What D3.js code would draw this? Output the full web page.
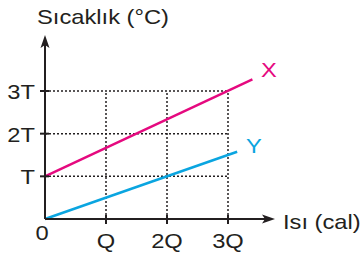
<!DOCTYPE html>
<html><head><meta charset="utf-8">
<script src="https://cdn.jsdelivr.net/npm/d3@7"></script>
<style>body{margin:0;background:#fff}svg{display:block}text{font-family:"Liberation Sans",Arial,sans-serif;fill:#231f20}</style>
</head><body>
<script>
const xTickLabels = ["Q", "2Q", "3Q"];
const xTickValues = [1, 2, 3];
const yTickLabels = ["T", "2T", "3T"];
const yTickValues = [1, 2, 3];
const seriesNames = ["X", "Y"];
const seriesX = [[0, 1], [3.4, 3.27]];
const seriesY = [[0, 0], [3.15, 1.575]];
const colors = ["#e5097f", "#0aa5e0"];

const W = 362, H = 257;
const svg = d3.select("body").append("svg").attr("width", W).attr("height", H);
const x = d3.scaleLinear().domain([0, 3]).range([45, 228]);
const y = d3.scaleLinear().domain([0, 3]).range([219, 91]);
const ink = "#231f20";
const FS = 21, SX = 1.13;

function label(px, py, txt, anchor, color) {
  const t = svg.append("text").attr("transform", `translate(${px},${py}) scale(${SX},1)`)
    .attr("font-size", FS).attr("text-anchor", anchor || "start").text(txt);
  if (color) t.style("fill", color);
  return t;
}

// dotted grid
yTickValues.forEach(v => svg.append("line").attr("x1", x(0)).attr("x2", x(3)).attr("y1", y(v)).attr("y2", y(v))
  .attr("stroke", ink).attr("stroke-width", 1.5).attr("stroke-dasharray", "2,2"));
xTickValues.forEach(v => svg.append("line").attr("x1", x(v)).attr("x2", x(v)).attr("y1", y(0)).attr("y2", y(3))
  .attr("stroke", ink).attr("stroke-width", 1.5).attr("stroke-dasharray", "2,2"));

// series lines
const line = d3.line().x(d => x(d[0])).y(d => y(d[1]));
[seriesX, seriesY].forEach((s, i) => svg.append("path").attr("d", line(s)).attr("fill", "none")
  .attr("stroke", colors[i]).attr("stroke-width", 2.5));

// axes
svg.append("line").attr("x1", x(0)).attr("x2", x(0)).attr("y1", y(0)).attr("y2", 44).attr("stroke", ink).attr("stroke-width", 2);
svg.append("line").attr("x1", x(0)).attr("x2", 266).attr("y1", y(0)).attr("y2", y(0)).attr("stroke", ink).attr("stroke-width", 2);
svg.append("path").attr("d", `M${x(0)},35 L${x(0)-4.5},48 L${x(0)},45 L${x(0)+4.5},48 Z`).attr("fill", ink);
svg.append("path").attr("d", `M275,${y(0)} L262,${y(0)-4.5} L265,${y(0)} L262,${y(0)+4.5} Z`).attr("fill", ink);

// ticks
xTickValues.forEach(v => svg.append("line").attr("x1", x(v)).attr("x2", x(v)).attr("y1", y(0)-4).attr("y2", y(0)+5).attr("stroke", ink).attr("stroke-width", 2));
yTickValues.forEach(v => svg.append("line").attr("x1", x(0)-5).attr("x2", x(0)+4).attr("y1", y(v)).attr("y2", y(v)).attr("stroke", ink).attr("stroke-width", 2));

// tick labels
xTickValues.forEach((v, i) => label(x(v), 248, xTickLabels[i], "middle"));
yTickValues.forEach((v, i) => label(35, y(v) + 8, yTickLabels[i], "end"));
label(42, 240, "0", "middle");

// axis titles
label(37, 24, "Sıcaklık (°C)");
label(283, 229, "Isı (cal)");

// series labels
label(261, 77, seriesNames[0], "start", colors[0]);
label(246, 153, seriesNames[1], "start", colors[1]);
</script>
</body></html>
